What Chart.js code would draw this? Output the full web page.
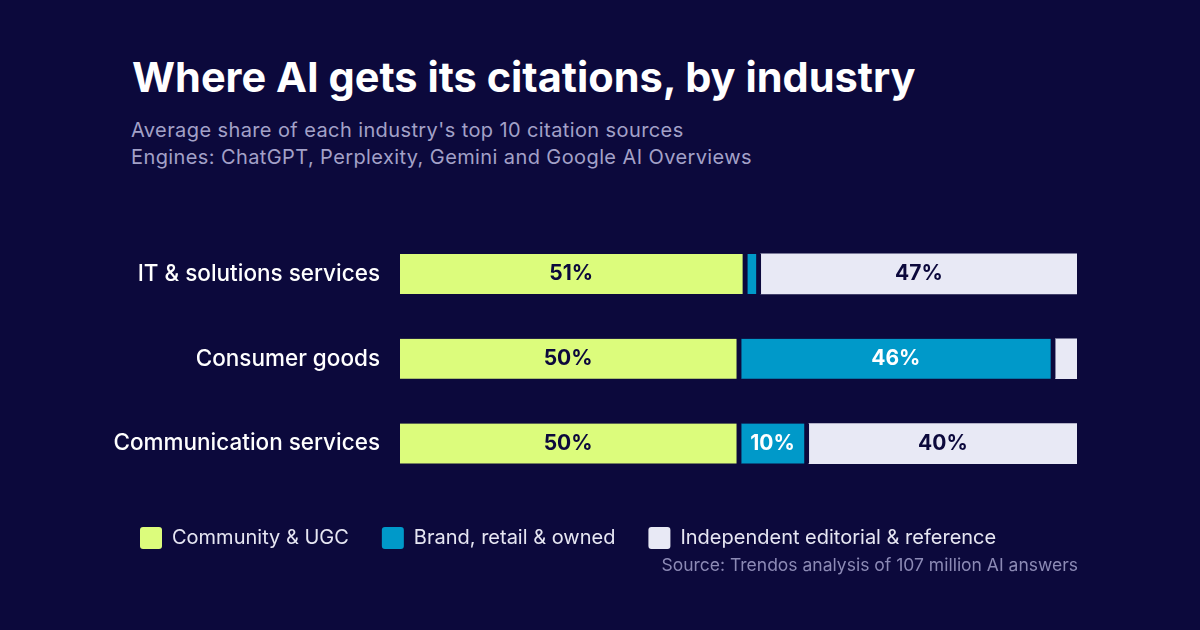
<!DOCTYPE html>
<html>
<head>
<meta charset="utf-8">
<script src="https://cdn.jsdelivr.net/npm/chart.js@4.4.1/dist/chart.umd.min.js"></script>
<style>
  body { margin: 0; background: #0c093c; }
  #wrap { position: relative; width: 1200px; height: 630px; background: #0c093c; overflow: hidden; font-family: Inter, sans-serif; }
  #title { position: absolute; left: 132px; top: 52px; color: #ffffff; font-size: 41.5px; font-weight: 700; white-space: nowrap; }
  #sub { position: absolute; left: 131px; top: 117px; color: #a3a1c8; font-size: 20px; letter-spacing: 0.4px; line-height: 27px; white-space: nowrap; }
  #source { position: absolute; right: 122px; top: 554px; color: #8c8ab5; font-size: 17.5px; white-space: nowrap; }
  #box { position: absolute; left: 0; top: 206px; width: 1200px; height: 353px; }
</style>
</head>
<body>
<div id="wrap">
  <div id="title">Where AI gets its citations, by industry</div>
  <div id="sub">Average share of each industry's top 10 citation sources<br>Engines: ChatGPT, Perplexity, Gemini and Google AI Overviews</div>
  <div id="box"><canvas id="myChart"></canvas></div>
  <div id="source">Source: Trendos analysis of 107 million AI answers</div>
</div>
<script>
var industries = ['IT & solutions services', 'Consumer goods', 'Communication services'];
var communityUgc = [51.3, 50.4, 50.4];
var brandOwned = [2.0, 46.4, 10.0];
var independentRef = [46.7, 3.2, 39.6];

var bg = '#0c093c';
var dark = '#0c093c';

// draws the % text in the middle of each segment
var segmentLabels = {
    id: 'segmentLabels',
    afterDatasetsDraw: function(chart) {
        var ctx = chart.ctx;
        ctx.save();
        ctx.font = '700 21px Inter';
        ctx.textAlign = 'center';
        ctx.textBaseline = 'middle';
        chart.data.datasets.forEach(function(ds, i) {
            var meta = chart.getDatasetMeta(i);
            meta.data.forEach(function(bar, j) {
                var v = ds.data[j];
                if (v < 5) return;
                var gap = ds.gapRight || 0;
                var cx = (bar.base + bar.x - gap) / 2;
                ctx.fillStyle = ds.textColor;
                ctx.fillText(Math.round(v) + '%', cx, bar.y);
            });
        });
        ctx.restore();
    }
};

const data = {
    labels: industries,
    datasets: [{
        label: 'Community & UGC',
        data: communityUgc,
        backgroundColor: '#dcfc7c',
        borderColor: bg,
        borderWidth: {top: 0, right: 5, bottom: 0, left: 0},
        borderSkipped: false,
        gapRight: 5,
        textColor: dark
    }, {
        label: 'Brand, retail & owned',
        data: brandOwned,
        backgroundColor: '#0099c9',
        borderColor: bg,
        borderWidth: {top: 0, right: 5, bottom: 0, left: 0},
        borderSkipped: false,
        gapRight: 5,
        textColor: '#ffffff'
    }, {
        label: 'Independent editorial & reference',
        data: independentRef,
        backgroundColor: '#e8e9f5',
        borderWidth: 0,
        gapRight: 0,
        textColor: dark
    }]
};

const config = {
    type: 'bar',
    data: data,
    plugins: [segmentLabels],
    options: {
        indexAxis: 'y',
        responsive: true,
        maintainAspectRatio: false,
        animation: false,
        barThickness: 40,
        layout: { padding: { left: 107, right: 123, top: 0, bottom: 0 } },
        scales: {
            x: { stacked: true, min: 0, max: 100, display: false },
            y: {
                stacked: true,
                grid: { display: false },
                border: { display: false },
                ticks: { color: '#ffffff', padding: 12, font: { family: 'Inter', size: 22.5, weight: 500 } },
                afterFit: function(scale) { scale.width = 293; }
            }
        },
        plugins: {
            tooltip: { enabled: false },
            legend: {
                position: 'bottom',
                align: 'start',
                title: { display: true, text: '', font: { size: 5 }, padding: 1 },
                labels: {
                    color: '#e6e6f2',
                    boxWidth: 22,
                    boxHeight: 22,
                    padding: 33,
                    useBorderRadius: true,
                    borderRadius: 3,
                    font: { family: 'Inter', size: 20 },
                    generateLabels: function(chart) {
                        return Chart.defaults.plugins.legend.labels.generateLabels(chart).map(function(l) {
                            l.lineWidth = 0;
                            l.strokeStyle = 'rgba(0,0,0,0)';
                            return l;
                        });
                    }
                }
            }
        }
    }
};

const myChart = new Chart(document.getElementById('myChart'), config);
</script>
</body>
</html>
